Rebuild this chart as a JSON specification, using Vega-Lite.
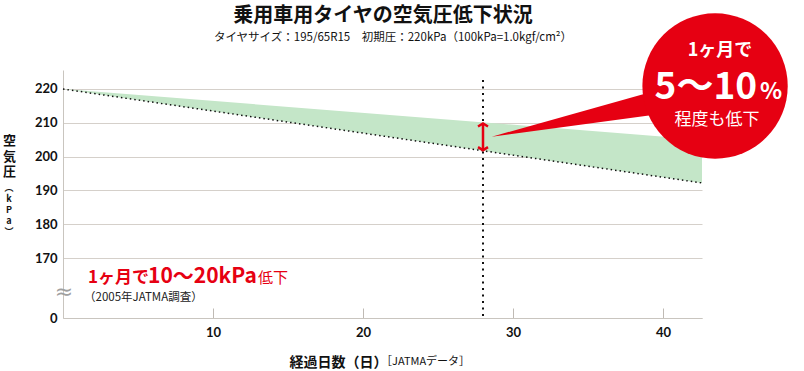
{
  "$schema": "https://vega.github.io/schema/vega-lite/v6.json",
  "width": 639,
  "height": 248,
  "autosize": {"type": "none"},
  "padding": {"left": 63, "top": 70, "right": 102, "bottom": 53},
  "background": "white",
  "config": {
    "view": {"stroke": null},
    "font": "Noto Sans CJK JP"
  },
  "encoding": {
    "x": {
      "field": "d",
      "type": "quantitative",
      "scale": {"domain": [0, 42.6], "nice": false, "zero": false},
      "axis": {
        "values": [10, 20, 30, 40],
        "grid": false,
        "domainColor": "#c9c5bf",
        "tickColor": "#bfbab4",
        "tickWidth": 1,
        "tickSize": -10,
        "labelPadding": 18,
        "labelFont": "Lato",
        "labelFontWeight": "bold",
        "labelFontSize": 13,
        "labelColor": "#111",
        "labelFlush": false,
        "title": "経過日数（日）",
        "titleFont": "Noto Sans CJK JP",
        "titleFontSize": 14,
        "titleFontWeight": "bold",
        "titleColor": "#111",
        "titleX": 275,
        "titleY": 44,
        "titleAlign": "center",
        "titleBaseline": "middle"
      }
    },
    "y": {
      "field": "p",
      "type": "quantitative",
      "scale": {"domain": [152.25, 225.62], "nice": false, "zero": false},
      "axis": {
        "values": [152.25, 170, 180, 190, 200, 210, 220],
        "labelExpr": "datum.value < 160 ? '0' : datum.label",
        "ticks": false,
        "labelPadding": 6,
        "domainColor": "#c9c5bf",
        "gridColor": "#d5d0ca",
        "labelFont": "Lato",
        "labelFontWeight": "bold",
        "labelFontSize": 13,
        "labelColor": "#111",
        "labelFlush": false,
        "title": ["空", "気", "圧"],
        "titleFont": "Noto Sans CJK JP",
        "titleFontSize": 13,
        "titleFontWeight": "bold",
        "titleColor": "#111",
        "titleAngle": 0,
        "titleLineHeight": 15.5,
        "titleX": -54,
        "titleY": 70.5,
        "titleAlign": "center",
        "titleBaseline": "middle"
      }
    }
  },
  "layer": [
    {
      "data": {"values": [{"d": 0, "p": 220, "p2": 220}, {"d": 42.6, "p": 205, "p2": 192.2}]},
      "mark": {"type": "area", "color": "#c4e6c8", "opacity": 1},
      "encoding": {"y2": {"field": "p2"}}
    },
    {
      "data": {"values": [{"d": 0, "p": 220}, {"d": 42.6, "p": 192.2}]},
      "mark": {"type": "line", "color": "#111", "strokeWidth": 1.5, "strokeDash": [1.5, 3]},
      "encoding": {}
    },
    {
      "data": {"values": [{"d": 28, "p": 222.66, "p2": 152.25}]},
      "mark": {"type": "rule", "color": "#111", "strokeWidth": 2, "strokeDash": [2, 4.5]},
      "encoding": {"y2": {"field": "p2"}}
    },
    {
      "data": {"values": [{"d": 28, "p": 209.7, "p2": 202.0}]},
      "mark": {"type": "rule", "color": "#e60012", "strokeWidth": 2.5},
      "encoding": {"y2": {"field": "p2"}}
    },
    {
      "data": {"values": [{"d": 28, "p": 209.8}]},
      "mark": {"type": "point", "shape": "M-1,0.6L0,0L1,0.6", "filled": false, "stroke": "#e60012", "strokeWidth": 2.5, "size": 100, "opacity": 1},
      "encoding": {}
    },
    {
      "data": {"values": [{"d": 28, "p": 201.9}]},
      "mark": {"type": "point", "shape": "M-1,-0.6L0,0L1,-0.6", "filled": false, "stroke": "#e60012", "strokeWidth": 2.5, "size": 100, "opacity": 1},
      "encoding": {}
    },
    {
      "data": {"values": [{"d": 28.58, "p": 205.89, "p2": 205.89}, {"d": 39.8, "p": 219.82, "p2": 212.6}]},
      "mark": {"type": "area", "color": "#e60012", "opacity": 1},
      "encoding": {"y2": {"field": "p2"}}
    },
    {
      "data": {"values": [{"d": 43.47, "p": 220.89}]},
      "mark": {"type": "point", "filled": true, "color": "#e60012", "size": 21124, "opacity": 1, "shape": "circle"},
      "encoding": {}
    },
    {
      "data": {"values": [{"d": 21.33, "p": 241.7, "t": "乗用車用タイヤの空気圧低下状況"}]},
      "mark": {"type": "text", "color": "#111", "fontSize": 20, "fontWeight": "bold", "align": "center", "baseline": "middle"},
      "encoding": {"text": {"field": "t"}}
    },
    {
      "data": {"values": [{"d": 22.0, "p": 235.1, "t": "タイヤサイズ：195/65R15　初期圧：220kPa（100kPa=1.0kgf/cm²）"}]},
      "mark": {"type": "text", "color": "#111", "fontSize": 11.5, "align": "center", "baseline": "middle"},
      "encoding": {"text": {"field": "t"}}
    },
    {
      "data": {"values": [{"d": 43.8, "p": 231.3, "t": "1ヶ月で"}]},
      "mark": {"type": "text", "color": "white", "fontSize": 18, "fontWeight": "bold", "align": "center", "baseline": "middle"},
      "encoding": {"text": {"field": "t"}}
    },
    {
      "data": {"values": [{"d": 46.27, "p": 216.9, "t": "5〜10"}]},
      "mark": {"type": "text", "color": "white", "fontSize": 37, "fontWeight": "bold", "align": "right", "baseline": "alphabetic"},
      "encoding": {"text": {"field": "t"}}
    },
    {
      "data": {"values": [{"d": 46.47, "p": 216.9, "t": "%"}]},
      "mark": {"type": "text", "color": "white", "fontSize": 23, "fontWeight": "bold", "align": "left", "baseline": "alphabetic"},
      "encoding": {"text": {"field": "t"}}
    },
    {
      "data": {"values": [{"d": 43.6, "p": 210.9, "t": "程度も低下"}]},
      "mark": {"type": "text", "color": "white", "fontSize": 17, "align": "center", "baseline": "middle"},
      "encoding": {"text": {"field": "t"}}
    },
    {
      "data": {"values": [{"d": 1.67, "p": 162.6, "t": "1ヶ月で"}]},
      "mark": {"type": "text", "color": "#e60012", "fontSize": 17, "fontWeight": "bold", "align": "left", "baseline": "alphabetic"},
      "encoding": {"text": {"field": "t"}}
    },
    {
      "data": {"values": [{"d": 5.67, "p": 162.6, "t": "10〜20kPa"}]},
      "mark": {"type": "text", "color": "#e60012", "fontSize": 21, "fontWeight": "bold", "align": "left", "baseline": "alphabetic"},
      "encoding": {"text": {"field": "t"}}
    },
    {
      "data": {"values": [{"d": 13.0, "p": 162.6, "t": "低下"}]},
      "mark": {"type": "text", "color": "#e60012", "fontSize": 15, "align": "left", "baseline": "alphabetic"},
      "encoding": {"text": {"field": "t"}}
    },
    {
      "data": {"values": [{"d": 1.4, "p": 158.17, "t": "（2005年JATMA調査）"}]},
      "mark": {"type": "text", "color": "#222", "fontSize": 11.5, "align": "left", "baseline": "middle"},
      "encoding": {"text": {"field": "t"}}
    },
    {
      "data": {"values": [{"d": 0.07, "p": 159.9, "t": "≈"}]},
      "mark": {"type": "text", "color": "#a0a0a0", "fontSize": 22, "align": "center", "baseline": "middle", "font": "DejaVu Sans"},
      "encoding": {"text": {"field": "t"}}
    },
    {
      "data": {"values": [{"d": -3.6, "p": 190.7}]},
      "mark": {"type": "text", "text": ["︵", "k", "P", "a", "︶"], "color": "#111", "fontSize": 9, "fontWeight": "bold", "lineHeight": 11, "align": "center", "baseline": "middle"},
      "encoding": {}
    },
    {
      "data": {"values": [{"d": 21.2, "p": 139.23, "t": "［JATMAデータ］"}]},
      "mark": {"type": "text", "color": "#111", "fontSize": 11, "align": "left", "baseline": "middle"},
      "encoding": {"text": {"field": "t"}}
    }
  ]
}
